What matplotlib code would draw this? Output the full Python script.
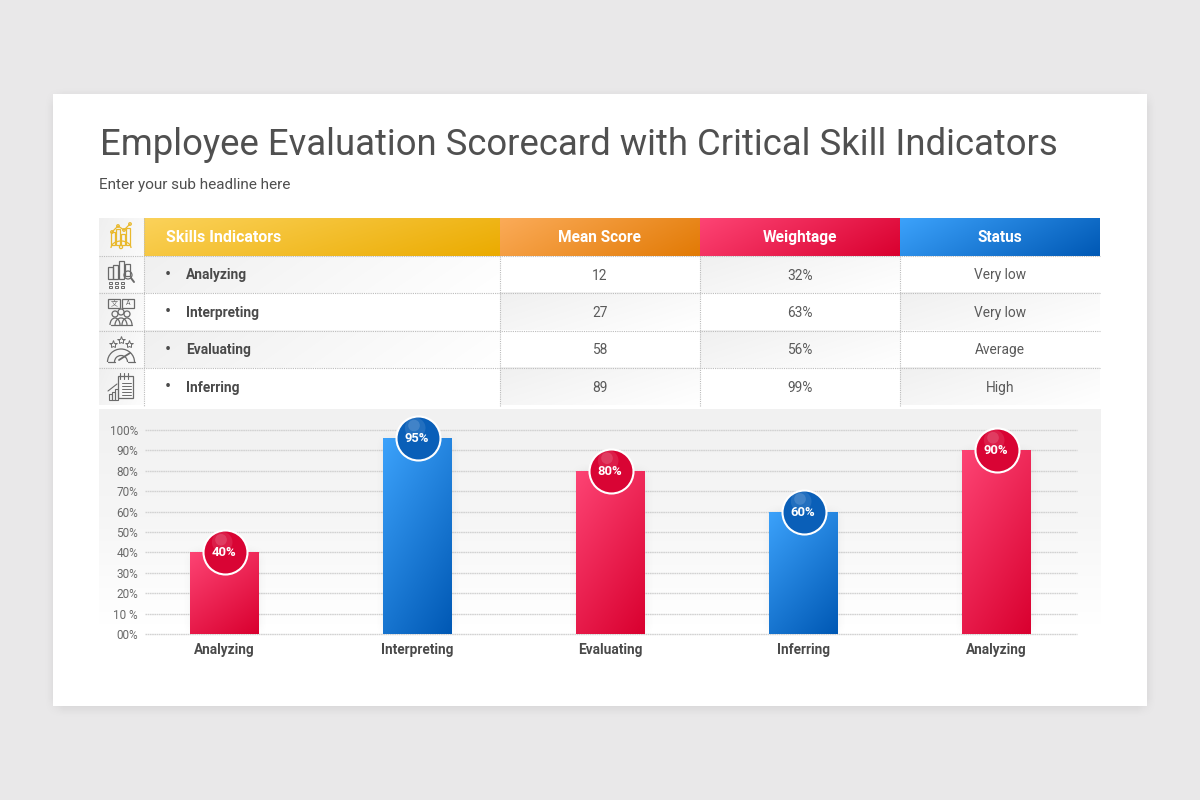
import numpy as np
import matplotlib
matplotlib.use("Agg")
import matplotlib.pyplot as plt
from matplotlib.colors import LinearSegmentedColormap
from matplotlib.patches import Rectangle, Circle, Arc

plt.rcParams['font.family'] = ['Roboto', 'DejaVu Sans']

title = "Employee Evaluation Scorecard with Critical Skill Indicators"
subtitle = "Enter your sub headline here"
table_headers = ["Skills Indicators", "Mean Score", "Weightage", "Status"]
skills = ["Analyzing", "Interpreting", "Evaluating", "Inferring"]
mean_scores = ["12", "27", "58", "89"]
weightages = ["32%", "63%", "56%", "99%"]
statuses = ["Very low", "Very low", "Average", "High"]

bar_categories = ["Analyzing", "Interpreting", "Evaluating", "Inferring", "Analyzing"]
bar_heights = [40, 96, 80, 60, 90]
bar_labels = ["40%", "95%", "80%", "60%", "90%"]
bar_kinds = ["red", "blue", "red", "blue", "red"]
y_ticks = list(range(0, 101, 10))
y_tick_labels = ["00%", "10 %", "20%", "30%", "40%", "50%", "60%", "70%", "80%", "90%", "100%"]

TXT = "#4a4a4a"
GRID = "#d2d2d2"
grads = {
    "yellow": ("#fbd25a", "#ebab00"),
    "orange": ("#fbab58", "#e27a05"),
    "red": ("#fd4474", "#d9002f"),
    "blue": ("#3ca2fb", "#0058b4"),
}

fig = plt.figure(figsize=(12, 8), dpi=100, facecolor="#e9e8e9")
px = fig.add_axes([0, 0, 1, 1], zorder=0)
px.set_xlim(0, 1200)
px.set_ylim(800, 0)
px.axis("off")


def diag(slope=0.35, n=120):
    x = np.linspace(0, 1, n)
    X, Y = np.meshgrid(x, x)
    return (X + slope * Y) / (1 + slope)


def grad_rect(ax, x0, y0, x1, y1, c0, c1, slope=0.35, z=2):
    cmap = LinearSegmentedColormap.from_list("g", [c0, c1])
    return ax.imshow(diag(slope), extent=(x0, x1, y1, y0), cmap=cmap,
                     vmin=0, vmax=1, aspect="auto", zorder=z, interpolation="bilinear")


def edge(v, a, b, blur):
    return np.clip((v - a) / (2.0 * blur) + 0.5, 0, 1) * np.clip((b - v) / (2.0 * blur) + 0.5, 0, 1)


def soft_shadow(ax, x0, y0, x1, y1, blur, alpha, z, dy=0):
    m = 3 * blur
    xs = np.arange(x0 - m, x1 + m)
    ys = np.arange(y0 - m, y1 + m)
    A = np.outer(edge(ys, y0 + dy, y1 + dy, blur), edge(xs, x0, x1, blur)) ** 1.5 * alpha
    rgba = np.zeros(A.shape + (4,))
    rgba[..., 3] = A
    ax.imshow(rgba, extent=(x0 - m, x1 + m, y1 + m, y0 - m), aspect="auto", zorder=z)


# Card
soft_shadow(px, 53, 94, 1147, 706, 10, 0.13, 1, dy=2)
px.add_patch(Rectangle((53, 94), 1094, 612, fc="white", ec="none", zorder=1.5))

px.text(99.5, 155, title, fontsize=26.3, color="#505050", va="baseline", ha="left", zorder=5)
px.text(99, 188.5, subtitle, fontsize=11.0, color="#4f4f4f", va="baseline", ha="left", zorder=5)

# Table
col_x = [144, 500, 700, 900, 1100]
row_y = [256, 293, 330.5, 368, 405.5]
head_colors = ["yellow", "orange", "red", "blue"]
for i, name in enumerate(table_headers):
    c0, c1 = grads[head_colors[i]]
    grad_rect(px, col_x[i], 218, col_x[i + 1], 256, c0, c1, z=2)
    if i == 0:
        px.text(166, 242, name, color="white", fontsize=11.5, fontweight="bold", va="baseline", ha="left", zorder=5)
    else:
        px.text((col_x[i] + col_x[i + 1]) / 2, 242, name, color="white", fontsize=11.2, fontweight="bold",
                va="baseline", ha="center", zorder=5)

grad_rect(px, 99, 218, 144, 256, "#efefef", "#fbfbfb", z=2)
for r in range(4):
    grad_rect(px, 99, row_y[r], 144, row_y[r + 1], "#efefef", "#fdfdfd", z=2)
    for c in range(4):
        if (r + c) % 2 == 0:
            grad_rect(px, col_x[c], row_y[r], col_x[c + 1], row_y[r + 1], "#f0f0f0", "#ffffff",
                      slope=0.6 if c else 0.15, z=2)
    base = (row_y[r] + row_y[r + 1]) / 2 + 5
    px.text(168, base + 0.5, "•", color=TXT, fontsize=13, va="baseline", ha="center", zorder=5)
    px.text(186, base, skills[r], color=TXT, fontsize=9.9, fontweight="bold", va="baseline", ha="left", zorder=5)
    for c, vals in enumerate([mean_scores, weightages, statuses], start=1):
        px.text((col_x[c] + col_x[c + 1]) / 2, base, vals[r], color="#5a5a5a", fontsize=9.9,
                va="baseline", ha="center", zorder=5)

dot = dict(color="#bcbcbc", lw=0.8, ls=(0, (1, 1)), zorder=3)
for y in row_y[:-1]:
    px.plot([99, 1100], [y, y], **dot)
for x in [144, 500, 700, 900]:
    px.plot([x, x], [218 if x == 144 else 256, 405.5], **dot)

# Chart panel
panel = np.linspace(0, 1, 200).reshape(-1, 1)
panel_cmap = LinearSegmentedColormap.from_list("p", ["#f1f1f1", "#f6f6f6", "#ffffff"])
px.imshow(panel, extent=(99, 1101, 625, 409), cmap=panel_cmap, aspect="auto", zorder=2)


# Icons, all hand drawn outlines
def ln(xs, ys, c, lw=0.9):
    px.plot(xs, ys, color=c, lw=lw, zorder=4, solid_capstyle="round")


def box(x, y, w, h, c, lw=0.9):
    px.add_patch(Rectangle((x, y), w, h, fc="none", ec=c, lw=lw, zorder=4))


def ring(x, y, r, c, lw=0.9):
    px.add_patch(Circle((x, y), r, fc="none", ec=c, lw=lw, zorder=4))


def arc(x, y, w, h, c, lw=0.9):
    px.add_patch(Arc((x, y), w, h, theta1=180, theta2=360, ec=c, lw=lw, zorder=4))


Y = "#e9b92e"
G = "#6a6a6a"
# header icon
for x, top in [(112, 232), (117, 229), (122, 234), (127, 228)]:
    box(x - 1.5, top, 4, 245 - top, Y)
ln([112, 118, 124, 130], [232, 226, 230, 224], Y)
for x, y_ in [(112, 232), (118, 226), (124, 230), (130, 224)]:
    ring(x, y_, 1.3, Y)
arc(121, 248, 20, 14, Y)
ring(121, 247, 1.6, Y)
# row 1 icon
for x, top, h in [(108, 267, 12), (113, 265, 14), (119, 261, 18), (125, 264, 12)]:
    box(x, top, 4.5, h, G)
ring(128, 275, 4, G)
ln([131, 134], [278, 282], G, 1.4)
for x in [110, 116, 122]:
    for y_ in [282, 286]:
        box(x - 1, y_, 3, 2, G, 0.7)
# row 2 icon
box(108, 299, 12, 9, G)
box(122, 299, 12, 9, G)
px.text(127.8, 303.5, "A", fontsize=5, color=G, ha="center", va="center", zorder=4)
px.text(114, 303.5, "文", fontsize=5, color=G, ha="center", va="center", zorder=4,
        family=["Noto Sans CJK SC", "DejaVu Sans"])
for x, y_, w in [(115, 314, 10), (127, 314, 10), (121, 312, 12)]:
    ring(x, y_, 3, G)
    arc(x, 325, w, 14, G)
ln([111, 132], [325, 325], G)
# row 3 icon
arc(121, 362, 27, 26, G)
arc(121, 362, 13, 13, G)
ln([107.5, 114.5], [362, 362], G)
ln([127.5, 134.5], [362, 362], G)
ln([119, 130], [360, 353], G, 1.3)
for x, y_ in [(113, 344), (121, 340), (129, 344)]:
    px.plot([x], [y_], marker="*", ms=6, mfc="none", mec=G, mew=0.7, zorder=4)
# row 4 icon
box(118, 376, 15, 22, G)
for y_ in [383, 386, 389, 392, 395]:
    ln([122, 131], [y_, y_], G, 0.7)
for x in [120, 124, 128]:
    ln([x, x], [373, 379], G, 0.8)
for x, top in [(109, 394), (112, 392), (115, 389)]:
    box(x, top, 2.5, 400 - top, G, 0.8)
ln([108, 117], [391, 384], G, 0.8)

# Bar chart, data axes
ax = fig.add_axes([145 / 1200, 1 - 634 / 800, (1077 - 145) / 1200, 204 / 800], zorder=3)
ax.patch.set_alpha(0)
ax.set_xlim((145 - 224.5) / 193, (1077 - 224.5) / 193)
ax.set_ylim(0, 100)
for s in ax.spines.values():
    s.set_visible(False)
ax.set_yticks(y_ticks)
ax.set_yticklabels(y_tick_labels, fontsize=8.5, color="#6a6a6a")
ax.tick_params(axis="y", length=0, pad=5)
ax.tick_params(axis="x", length=0, pad=6.5)
ax.yaxis.grid(True, color=GRID, lw=1.0, ls=(0, (1.2, 0.4)), clip_on=False)
ax.set_axisbelow(True)
xs = np.arange(len(bar_heights))
ax.set_xticks(xs)
ax.set_xticklabels(bar_categories, fontsize=9.8, fontweight="bold", color=TXT)

bar_w = 69 / 193
bars = ax.bar(xs, bar_heights, width=bar_w, color="none", zorder=3)
x_lim, y_lim = ax.get_xlim(), ax.get_ylim()
PX_X, PX_Y = 1 / 193, 100 / 204
for b, kind in zip(bars, bar_kinds):
    c0, c1 = grads[kind]
    cmap = LinearSegmentedColormap.from_list("b", [c0, c1])
    x0, w, h = b.get_x(), b.get_width(), b.get_height()
    # soft neutral glow behind the bar
    blur, m = 9, 24
    nx = np.arange(-m, 69 + m)
    ny = np.arange(-m, h / PX_Y + m)
    A = np.outer(edge(ny, 0, h / PX_Y, blur), edge(nx, 0, 69, blur)) ** 1.5 * 0.08
    rgba = np.zeros(A.shape + (4,))
    rgba[..., 3] = A
    ax.imshow(rgba, extent=(x0 - m * PX_X, x0 + w + m * PX_X, -m * PX_Y, h + m * PX_Y), origin="lower",
              aspect="auto", zorder=2.5)
    im = ax.imshow(diag(1.6), extent=(x0, x0 + w, 0, h), origin="upper", cmap=cmap, vmin=0, vmax=1,
                   aspect="auto", zorder=3.1, interpolation="bilinear")
    im.set_clip_path(b)
ax.set_xlim(x_lim)
ax.set_ylim(y_lim)

# Value badges
R = 22
S = (2 * R * 0.72) ** 2
for x, h, lab, kind in zip(xs, bar_heights, bar_labels, bar_kinds):
    c = {"red": "#d90434", "blue": "#0a5fb8"}[kind]
    ax.scatter([x], [h], s=S, fc=c, ec="white", lw=1.5, zorder=6, clip_on=False)
    ax.scatter([x - 0.012], [h + 5.0], s=S * 0.22, fc="white", ec="none", alpha=0.10, zorder=6.1, clip_on=False)
    ax.scatter([x - 0.018], [h + 6.2], s=S * 0.07, fc="white", ec="none", alpha=0.14, zorder=6.2, clip_on=False)
    ax.text(x - 0.003, h - 0.2, lab, color="white", fontsize=9.4, fontweight="bold", ha="center", va="center",
            zorder=7, clip_on=False)

fig.savefig("out.png", dpi=100, facecolor=fig.get_facecolor())
